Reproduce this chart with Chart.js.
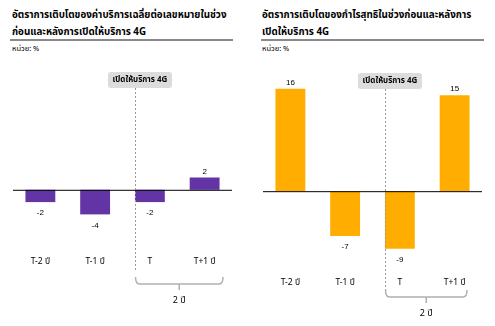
<!DOCTYPE html>
<html>
<head>
<meta charset="utf-8">
<script src="https://cdn.jsdelivr.net/npm/chart.js@4.4.0/dist/chart.umd.min.js"></script>
<style>
  body { margin: 0; background: #fff; width: 495px; height: 326px; position: relative; overflow: hidden;
         font-family: "Noto Sans Thai", Tahoma, "Liberation Sans", sans-serif; }
  .title { position: absolute; top: 7px; font-size: 9.8px; font-weight: bold; line-height: 17px; color: #000; white-space: nowrap; }
  .rule { position: absolute; top: 39px; height: 2px; background: #8a8a8a; }
  .unit { position: absolute; top: 43px; font-size: 7.5px; color: #000; }
  .box { position: absolute; }
</style>
</head>
<body>
<div class="title" style="left:12px">อัตราการเติบโตของค่าบริการเฉลี่ยต่อเลขหมายในช่วง<br>ก่อนและหลังการเปิดให้บริการ 4G</div>
<div class="rule" style="left:10px;width:223px"></div>
<div class="unit" style="left:12px">หน่วย: %</div>
<div class="title" style="left:262px">อัตราการเติบโตของกำไรสุทธิในช่วงก่อนและหลังการ<br>เปิดให้บริการ 4G</div>
<div class="rule" style="left:261px;width:223px"></div>
<div class="unit" style="left:262px">หน่วย: %</div>

<div class="box" style="left:0;top:0;width:247px;height:326px"><canvas id="arpu"></canvas></div>
<div class="box" style="left:250px;top:0;width:245px;height:326px"><canvas id="profit"></canvas></div>

<script>
const FONT = '"Noto Sans Thai", Tahoma, "Liberation Sans", sans-serif';

const periods = ['T-2 ปี', 'T-1 ปี', 'T', 'T+1 ปี'];
const arpuGrowth = [-2, -4, -2, 2];
const profitGrowth = [16, -7, -9, 15];
const launchLabel = 'เปิดให้บริการ 4G';
const spanLabel = '2 ปี';

// zero line, value labels, 4G launch marker and the 2-year brace
const extras = {
  id: 'extras',
  afterDatasetsDraw(chart, args, opts) {
    const ctx = chart.ctx;
    const area = chart.chartArea;
    const y = chart.scales.y;
    const zero = y.getPixelForValue(0);
    const bars = chart.getDatasetMeta(0).data;
    const values = chart.data.datasets[0].data;

    ctx.save();
    ctx.strokeStyle = '#000';
    ctx.lineWidth = 1;
    ctx.beginPath();
    ctx.moveTo(area.left, zero + 0.5);
    ctx.lineTo(area.right, zero + 0.5);
    ctx.stroke();

    ctx.fillStyle = '#000';
    ctx.font = '8px "Liberation Sans", Arial, sans-serif';
    ctx.textAlign = 'center';
    ctx.textBaseline = 'middle';
    bars.forEach((b, i) => {
      const v = values[i];
      const ty = v >= 0 ? b.y - 6 : b.y + 11;
      ctx.fillText(String(v), b.x, ty);
    });

    // dashed launch line at the left edge of the T bar
    const lx = Math.round(bars[2].x - bars[2].width / 2) + 0.5;
    ctx.strokeStyle = '#999';
    ctx.setLineDash([2, 2]);
    ctx.beginPath();
    ctx.moveTo(lx, opts.lineTop);
    ctx.lineTo(lx, opts.lineBottom);
    ctx.stroke();
    ctx.setLineDash([]);

    // label box
    const bw = 64, bh = 16, bx = lx + 4.5 - bw / 2, by = opts.lineTop - bh;
    ctx.fillStyle = '#dcdcdc';
    ctx.beginPath();
    ctx.roundRect(bx, by, bw, bh, 3);
    ctx.fill();
    ctx.fillStyle = '#000';
    ctx.font = 'bold 8px ' + FONT;
    ctx.fillText(launchLabel, bx + bw / 2, by + bh / 2);

    // brace under T .. T+1
    const x0 = lx, x1 = Math.round(bars[3].x + bars[3].width / 2) + opts.braceEnd;
    const top = opts.braceTop, bot = top + 7, mid = (x0 + x1) / 2;
    ctx.strokeStyle = '#b0b0b0';
    ctx.lineWidth = 1.5;
    ctx.beginPath();
    ctx.moveTo(x0, top);
    ctx.quadraticCurveTo(x0, bot, x0 + 4, bot);
    ctx.lineTo(x1 - 4, bot);
    ctx.quadraticCurveTo(x1, bot, x1, top);
    ctx.moveTo(mid, bot);
    ctx.lineTo(mid, bot + 6);
    ctx.stroke();
    ctx.font = '9px ' + FONT;
    ctx.fillText(spanLabel, mid, bot + 17);
    ctx.restore();
  }
};

function makeChart(id, values, color, cfg) {
  return new Chart(document.getElementById(id), {
    type: 'bar',
    data: {
      labels: periods,
      datasets: [{
        data: values,
        backgroundColor: color,
        categoryPercentage: 1,
        barPercentage: 30 / 55
      }]
    },
    options: {
      responsive: true,
      maintainAspectRatio: false,
      animation: false,
      layout: { padding: cfg.padding },
      plugins: {
        legend: { display: false },
        tooltip: { enabled: false },
        extras: cfg.extras
      },
      scales: {
        x: {
          grid: { display: false, drawTicks: false },
          border: { display: false },
          ticks: { color: '#000', padding: cfg.tickPad, font: { size: 8.5, family: FONT } },
          afterFit: s => { s.height = 30; }
        },
        y: {
          display: false,
          min: cfg.min,
          max: cfg.max
        }
      }
    },
    plugins: [extras]
  });
}

makeChart('arpu', arpuGrowth, '#6234a6', {
  padding: { left: 13, right: 15, top: 60, bottom: 41 },
  min: -10.6, max: 21.1, tickPad: 2,
  extras: { lineTop: 88, lineBottom: 271, braceTop: 277, braceEnd: 3 }
});

makeChart('profit', profitGrowth, '#ffad00', {
  padding: { left: 13, right: 13, top: 60, bottom: 21 },
  min: -13.1, max: 20.5, tickPad: 3,
  extras: { lineTop: 89, lineBottom: 291, braceTop: 290, braceEnd: -3 }
});
</script>
</body>
</html>
